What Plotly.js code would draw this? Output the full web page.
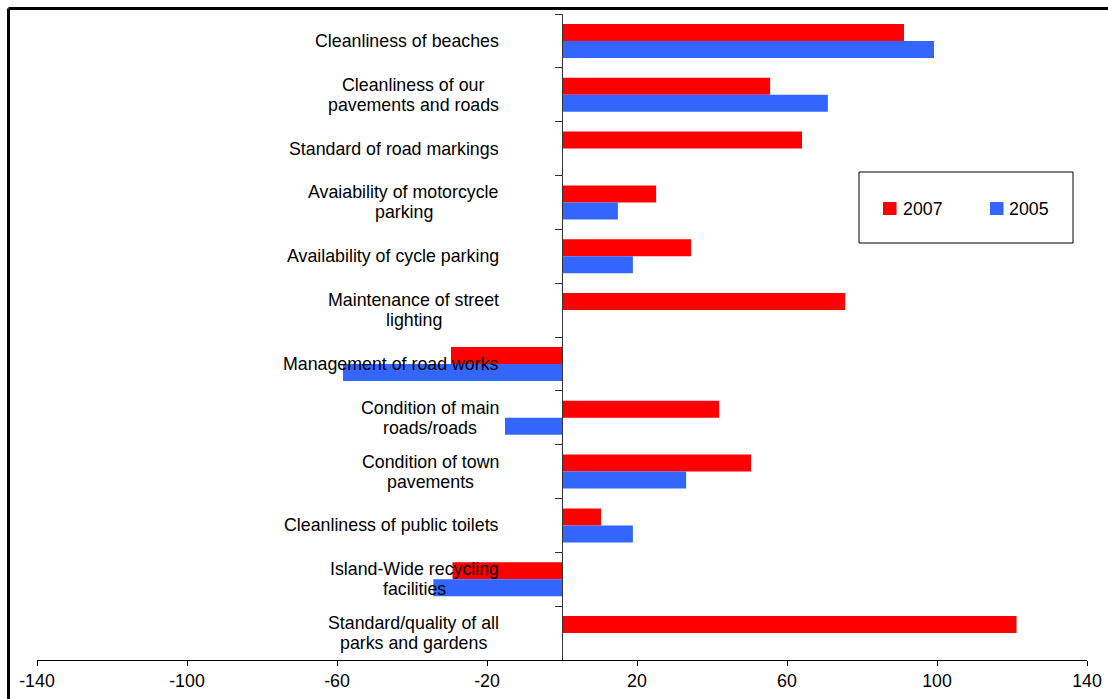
<!DOCTYPE html>
<html>
<head>
<meta charset="utf-8">
<script src="https://cdn.plot.ly/plotly-3.0.1.min.js"></script>
<style>
  html, body { margin: 0; padding: 0; background: #fff; overflow: hidden; }
  #chart { width: 1108px; height: 699px; }
</style>
</head>
<body>
<div id="chart"></div>
<script>
// ---- data ----
const categories = [
  "Cleanliness of beaches",
  "Cleanliness of our<br>pavements and roads",
  "Standard of road markings",
  "Avaiability of motorcycle<br>parking",
  "Availability of cycle parking",
  "Maintenance of street<br>lighting",
  "Management of road works",
  "Condition of main<br>roads/roads",
  "Condition of town<br>pavements",
  "Cleanliness of public toilets",
  "Island-Wide recycling<br>facilities",
  "Standard/quality of all<br>parks and gardens"
];
const values2007 = [91.2, 55.5, 64, 25.1, 34.4, 75.5, -29.6, 41.9, 50.4, 10.4, -29.2, 121.2];
const values2005 = [99.2, 70.9, null, 14.9, 18.9, null, -58.4, -15.2, 33.1, 18.9, -34.3, null];
const seriesNames = ["2007", "2005"];
const seriesColors = ["#FF0000", "#3366FF"];
const xTickVals = [-140, -100, -60, -20, 20, 60, 100, 140];
const xTickText = ["-140", "-100", "-60", "-20", "20", "60", "100", "140"];

// ---- layout helpers ----
const W = 1108, H = 699;
const M = { l: 37, r: 21, t: 14, b: 39 };
const PW = W - M.l - M.r, PH = H - M.t - M.b;
const px2x = px => (px - M.l) / PW;
const px2y = py => (H - M.b - py) / PH;
const FONT = "Liberation Sans, Arial, sans-serif";
const FS = 17.8;

const canvas = document.createElement("canvas");
const ctx = canvas.getContext("2d");
ctx.font = FS + "px 'Liberation Sans'";

// category labels, right edge of the widest line 63px left of the zero line
const annotations = [];
categories.forEach(c => {
  const lines = c.split("<br>");
  const maxW = Math.max(...lines.map(s => ctx.measureText(s).width));
  const lh = 20;
  lines.forEach((ln, i) => {
    annotations.push({
      x: 0, xref: "x", y: c, yref: "y",
      text: ln, showarrow: false,
      xanchor: "center", yanchor: "middle",
      xshift: -63 - maxW / 2,
      yshift: ((lines.length - 1) / 2 - i) * lh,
      font: { family: FONT, size: FS, color: "#000" }
    });
  });
});

// manual legend
const shapes = [
  // outer frame (left and top visible)
  { type: "line", xref: "paper", yref: "paper", x0: px2x(8.5), x1: px2x(1130), y0: px2y(8.5), y1: px2y(8.5), line: { color: "#000", width: 3 } },
  { type: "line", xref: "paper", yref: "paper", x0: px2x(8.5), x1: px2x(8.5), y0: px2y(8.5), y1: px2y(720), line: { color: "#000", width: 3 } },
  // legend box
  { type: "rect", xref: "paper", yref: "paper", x0: px2x(859), x1: px2x(1073), y0: px2y(243), y1: px2y(172), line: { color: "#000", width: 1 }, fillcolor: "#fff", layer: "above" }
];
const legendItems = [
  { sx: 883, tx: 901 },
  { sx: 990, tx: 1007 }
];
legendItems.forEach((it, i) => {
  shapes.push({ type: "rect", xref: "paper", yref: "paper", x0: px2x(it.sx), x1: px2x(it.sx + 13.5), y0: px2y(215), y1: px2y(202), line: { width: 0 }, fillcolor: seriesColors[i], layer: "above" });
  annotations.push({ xref: "paper", yref: "paper", x: px2x(it.tx), y: px2y(208.5), xanchor: "left", yanchor: "middle", text: seriesNames[i], showarrow: false, font: { family: FONT, size: FS, color: "#000" } });
});

const traces = [values2007, values2005].map((v, i) => ({
  type: "bar", orientation: "h",
  x: v, y: categories, name: seriesNames[i],
  marker: { color: seriesColors[i], line: { width: 0 } },
  hoverinfo: "x+name"
}));

const layout = {
  width: W, height: H,
  margin: M,
  paper_bgcolor: "#fff", plot_bgcolor: "rgba(0,0,0,0)",
  showlegend: false,
  barmode: "group", bargap: 0.367, bargroupgap: 0,
  font: { family: FONT, size: FS, color: "#000" },
  xaxis: {
    range: [-140, 140], tickvals: xTickVals, ticktext: xTickText,
    showgrid: false, zeroline: false,
    showline: true, linecolor: "#000", linewidth: 1,
    ticks: "outside", ticklen: 5, tickcolor: "#000", tickwidth: 1,
    tickfont: { family: FONT, size: FS, color: "#000" },
    fixedrange: true
  },
  yaxis: {
    type: "category", autorange: "reversed",
    anchor: "free", position: 0.5,
    showgrid: false, zeroline: false,
    showline: true, linecolor: "#333", linewidth: 1,
    ticks: "outside", tickson: "boundaries", ticklen: 7, tickcolor: "#333", tickwidth: 1,
    showticklabels: false,
    fixedrange: true
  },
  annotations: annotations,
  shapes: shapes
};

Plotly.newPlot("chart", traces, layout, { displayModeBar: false, staticPlot: true });
</script>
</body>
</html>
